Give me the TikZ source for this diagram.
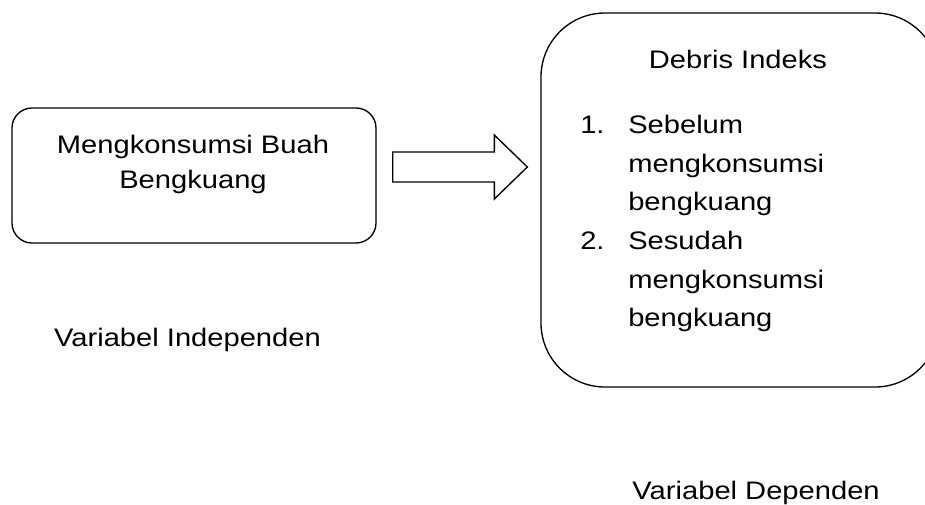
\documentclass[tikz,border=0pt]{standalone}
\usepackage{fontspec}
\setmainfont{Liberation Sans}[FakeStretch=1.15]
\usetikzlibrary{calc}

\tikzset{
  varbox/.style={draw, line width=1pt},
  blockarrow/.style={draw, line width=1pt, line join=miter},
  boxtext/.style={font=\fontsize{19}{26.25}\selectfont, inner sep=0pt},
  listtext/.style={font=\fontsize{19}{29}\selectfont, inner sep=0pt}
}

\begin{document}
\begin{tikzpicture}[x=0.75pt, y=-0.75pt]

% Frame
\clip (0,0) rectangle (925,504);

% Boxes
\node[varbox, rounded corners=15pt, minimum width=273pt, minimum height=101.25pt] (indep) at (194,175.5) {};
\node[varbox, rounded corners=48pt, minimum width=298.5pt, minimum height=280.5pt] (debris) at (740,200) {};

% Box texts
\node[boxtext, align=center, anchor=base] (indepText) at (193,188) {Mengkonsumsi Buah\\Bengkuang};
\node[boxtext, anchor=base] (debrisTitle) at (738,68) {Debris Indeks};
\node[listtext, anchor=base west] (debrisList) at (580,133.5) {%
  \begin{tabular}[t]{@{}l@{}l@{}}
    \makebox[36pt][l]{1.} & Sebelum\\
     & mengkonsumsi\\
     & bengkuang\\
    \makebox[36pt][l]{2.} & Sesudah\\
     & mengkonsumsi\\
     & bengkuang
  \end{tabular}};

% Labels
\node[boxtext, anchor=base] (indepLabel) at (187.5,346) {Variabel Independen};
\node[boxtext, anchor=base east] (depLabel) at (880,499) {Variabel Dependen};

% Block arrow
\coordinate (arrL) at ($(indep.east)+(16,-8.5)$);
\coordinate (arrR) at ($(debris.west |- arrL)+(-13,0)$);
\draw[blockarrow] ($(arrL)+(0,-15)$) -- ($(arrR)+(-33,-15)$) -- ($(arrR)+(-33,-32)$)
  -- (arrR) -- ($(arrR)+(-33,32)$) -- ($(arrR)+(-33,15)$) -- ($(arrL)+(0,15)$) -- cycle;

\end{tikzpicture}
\end{document}
